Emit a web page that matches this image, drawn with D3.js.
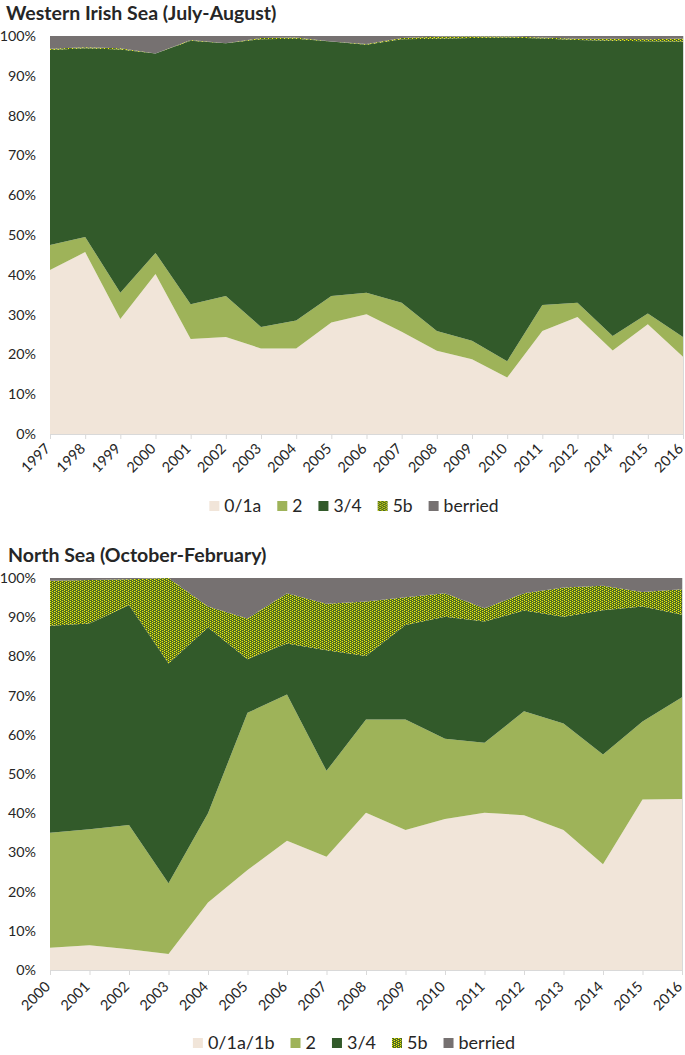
<!DOCTYPE html>
<html><head><meta charset="utf-8">
<script src="https://cdn.jsdelivr.net/npm/d3@7"></script>
<style>body{margin:0;background:#fff}svg{display:block}text{font-family:Lato,"Open Sans",sans-serif;fill:#262626}</style>
</head><body><svg id="c" width="685" height="1055"></svg>
<script>
// ---- Western Irish Sea (July-August) ----
const wisYears = ["1997","1998","1999","2000","2001","2002","2003","2004","2005","2006","2007","2008","2009","2010","2011","2012","2014","2015","2016"];
const wis01a   = [41.2,45.7,28.9,40.2,23.9,24.4,21.5,21.5,28.0,30.1,25.7,20.9,18.8,14.2,25.9,29.4,21.0,27.6,19.4];
const wis2     = [6.3,3.8,6.6,5.3,8.7,10.3,5.4,7.0,6.7,5.4,7.3,5.0,4.6,4.1,6.5,3.6,3.6,2.7,5.0];
const wis34    = [49.0,47.4,61.1,50.1,66.2,63.5,72.3,70.8,63.9,62.3,66.2,73.4,76.1,81.3,67.0,66.0,74.2,68.4,74.2];
const wis5b    = [0.3,0.3,0.3,0.0,0.2,0.0,0.3,0.3,0.0,0.2,0.3,0.5,0.4,0.3,0.2,0.3,0.5,0.5,0.8];
const wisBerried = [3.2,2.8,3.1,4.4,1.0,1.8,0.5,0.4,1.4,2.0,0.5,0.2,0.1,0.1,0.4,0.7,0.7,0.8,0.6];
const wisLabels = ["0/1a","2","3/4","5b","berried"];

// ---- North Sea (October-February) ----
const nsYears = ["2000","2001","2002","2003","2004","2005","2006","2007","2008","2009","2010","2011","2012","2013","2014","2015","2016"];
const ns01a   = [5.7,6.3,5.3,4.1,17.2,25.5,33.0,28.9,40.1,35.7,38.5,40.1,39.5,35.7,27.0,43.5,43.6];
const ns2     = [29.3,29.6,31.7,18.0,22.8,40.1,37.3,21.9,23.8,28.2,20.5,17.9,26.5,27.2,28.0,19.9,26.0];
const ns34    = [52.8,52.5,56.1,56.1,47.4,13.7,13.0,30.8,16.2,24.1,31.1,30.9,25.7,27.2,36.8,29.3,21.0];
const ns5b    = [11.5,11.1,6.6,21.8,5.3,10.4,12.8,11.8,13.9,7.1,6.0,3.4,4.4,7.5,6.2,3.7,6.5];
const nsBerried = [0.7,0.5,0.3,0.0,7.3,10.3,3.9,6.6,6.0,4.9,3.9,7.7,3.9,2.4,2.0,3.6,2.9];
const nsLabels = ["0/1a/1b","2","3/4","5b","berried"];

const yTicks = [0,10,20,30,40,50,60,70,80,90,100];
const keys = ["a","b","c","d","e"];
const colors = ["#F1E5D9","#9EB359","#325A2A","url(#p5b)","#767171"];

const svg = d3.select("#c");
const defs = svg.append("defs");
const pat = defs.append("pattern").attr("id","p5b").attr("patternUnits","userSpaceOnUse")
  .attr("width",4).attr("height",4);
pat.append("rect").attr("width",4).attr("height",4).attr("fill","#4d6a24");
[[0,0],[0,2],[2,1],[2,3]].forEach(([x,y])=>pat.append("rect").attr("x",x).attr("y",y).attr("width",1).attr("height",1).attr("fill","#f2f200"));
[[1,1],[3,3]].forEach(([x,y])=>pat.append("rect").attr("x",x).attr("y",y).attr("width",1).attr("height",1).attr("fill","#8f9a2a"));

function chart(o){
  const data = o.years.map((yr,i)=>({yr, a:o.s[0][i], b:o.s[1][i], c:o.s[2][i], d:o.s[3][i], e:o.s[4][i]}));
  const x = d3.scalePoint().domain(o.years).range([o.x0,o.x1]).padding(0);
  const y = d3.scaleLinear().domain([0,100]).range([o.y0,o.y1]);
  const series = d3.stack().keys(keys)(data);
  const area = d3.area().x(d=>x(d.data.yr)).y0(d=>y(d[0])).y1(d=>y(d[1]));
  const g = svg.append("g");
  g.selectAll("path.s").data(series).join("path").attr("class","s")
    .attr("d",area).attr("fill",(d,i)=>colors[i]);
  g.append("line").attr("x1",o.x1+0.5).attr("x2",o.x1+0.5).attr("y1",o.y1).attr("y2",o.y0).attr("stroke","#d9d9d9");
  // y axis
  const ya = g.append("g").attr("transform",`translate(${o.x0},0)`)
    .call(d3.axisLeft(y).tickValues(yTicks).tickFormat(d=>d+"%").tickSize(0).tickPadding(14));
  ya.select(".domain").remove();
  ya.selectAll("text").attr("font-size",14.3).attr("font-family","Lato").attr("fill","#262626");
  // x axis
  const xa = g.append("g").attr("transform",`translate(0,${o.y0})`)
    .call(d3.axisBottom(x).tickSize(5).tickPadding(4));
  xa.select(".domain").attr("stroke","#d9d9d9").attr("d",`M${o.x0},0.5H${o.x1}`);
  xa.selectAll(".tick line").attr("stroke","#d9d9d9");
  xa.selectAll("text").attr("font-size",14.5).attr("font-family","Lato").attr("fill","#262626")
    .attr("x",0).attr("y",0).attr("text-anchor","end").attr("dy","0.35em")
    .attr("transform",`translate(${o.lxo},${o.lyo}) rotate(-45)`);
  // title
  g.append("text").attr("x",o.tx).attr("y",o.ty).attr("font-size",19.5).attr("font-weight","bold").text(o.title);
  // legend
  const lg = g.append("g").attr("transform",`translate(0,${o.ly})`);
  const items = lg.selectAll("g").data(o.labels).join("g");
  items.append("rect").attr("width",10).attr("height",10).attr("y",-5).attr("fill",(d,i)=>colors[i]);
  items.append("text").attr("x",15).attr("dy","0.35em").attr("font-size",o.lfs).text(d=>d);
  let widths = []; items.select("text").each(function(){widths.push(15+this.getComputedTextLength());});
  const gap = 16; const total = d3.sum(widths)+gap*(widths.length-1);
  let cx = o.lcx - total/2;
  items.each(function(d,i){ d3.select(this).attr("transform",`translate(${cx},0)`); cx += widths[i]+gap; });
}

chart({years:wisYears, s:[wis01a,wis2,wis34,wis5b,wisBerried], labels:wisLabels,
  x0:50, x1:683, y0:434, y1:36, title:"Western Irish Sea (July-August)", tx:6, ty:20, ly:506, lcx:354, lfs:17.5, lxo:-3, lyo:12});
chart({years:nsYears, s:[ns01a,ns2,ns34,ns5b,nsBerried], labels:nsLabels,
  x0:50, x1:682, y0:970, y1:578, title:"North Sea (October-February)", tx:8, ty:562, ly:1043, lcx:354, lfs:18, lxo:-3, lyo:14});
</script></body></html>
